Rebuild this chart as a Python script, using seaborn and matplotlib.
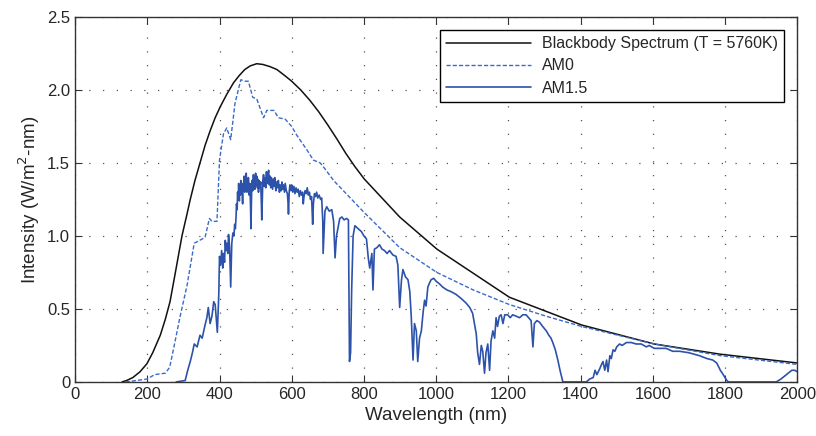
import numpy as np
import pandas as pd
import matplotlib
matplotlib.use("Agg")
import matplotlib.pyplot as plt
import seaborn as sns

# blackbody spectrum (T = 5760K)
bb_nm = [130, 143, 160, 180, 199, 215, 236, 250, 263, 280, 296, 310, 319, 332, 346, 360,
         374, 388, 402, 420, 439, 455, 470, 485, 503, 520, 540, 559, 580, 600, 625, 650,
         675, 700, 725, 750, 775, 801, 850, 899, 1002, 1203, 1403, 1604, 1787, 2000]
bb_val = [0.0, 0.01, 0.03, 0.07, 0.125, 0.2, 0.32, 0.43, 0.55, 0.78, 1.0, 1.15, 1.25, 1.38, 1.5, 1.62,
          1.72, 1.81, 1.885, 1.97, 2.05, 2.10, 2.14, 2.165, 2.18, 2.175, 2.16, 2.14, 2.10, 2.06, 2.0, 1.93,
          1.85, 1.76, 1.665, 1.565, 1.475, 1.39, 1.26, 1.13, 0.91, 0.58, 0.39, 0.26, 0.19, 0.13]

# AM0 spectrum
am0_nm = [140, 200, 220, 250, 262, 273, 291, 310, 330, 345, 360, 372, 379, 393, 400, 411,
          420, 431, 443, 459, 471, 480, 492, 503, 522, 531, 551, 563, 582, 600, 614, 642,
          660, 679, 692, 716, 801, 899, 1002, 1103, 1203, 1305, 1403, 1604, 1787, 2000]
am0_val = [0.0, 0.02, 0.05, 0.06, 0.10, 0.23, 0.45, 0.66, 0.95, 0.97, 0.99, 1.12, 1.10, 1.10, 1.52, 1.70,
           1.74, 1.66, 1.91, 2.07, 2.06, 2.06, 1.95, 1.94, 1.81, 1.86, 1.86, 1.81, 1.80, 1.75, 1.69, 1.59,
           1.52, 1.50, 1.46, 1.38, 1.16, 0.92, 0.75, 0.63, 0.53, 0.45, 0.38, 0.26, 0.18, 0.12]

# AM1.5 spectrum, in three pieces
am15_uv_nm = [280, 305, 312, 319, 325, 330, 338, 346, 352, 360,
              365, 369, 374, 379, 384, 388, 394, 398, 400, 403,
              406, 409, 411, 414, 416, 418, 420, 423, 425, 428,
              431, 434, 437]
am15_uv_val = [0.0, 0.01, 0.08, 0.14, 0.20, 0.26, 0.24, 0.32, 0.30, 0.39,
               0.44, 0.51, 0.40, 0.45, 0.55, 0.53, 0.34, 0.60, 0.86, 0.80,
               0.90, 0.78, 0.88, 0.82, 0.97, 0.90, 0.95, 0.88, 1.01, 0.92,
               0.65, 0.95, 1.02]

am15_vis_nm = [440, 442, 444, 446, 447, 449, 450, 452, 453, 455,
               456, 458, 459, 461, 462, 464, 465, 467, 468, 470,
               471, 473, 474, 476, 477, 479, 480, 482, 484, 486,
               487, 489, 490, 492, 494, 495, 497, 498, 500, 502,
               503, 505, 506, 508, 510, 512, 514, 516, 517, 519,
               520, 522, 524, 526, 528, 530, 532, 534, 536, 538,
               540, 542, 544, 547, 549, 551, 553, 556, 558, 561,
               563, 566, 568, 571, 573, 575, 577, 580, 582, 585,
               588, 590, 591, 593, 595, 598, 600, 603, 606, 609,
               612, 615, 618, 621, 624, 627, 630, 632, 634, 637,
               640, 643, 646, 649, 652, 655, 658, 660, 663, 666,
               669, 672, 676, 680, 683, 686]
am15_vis_val = [1.00, 1.08, 1.05, 1.14, 1.22, 1.18, 1.30, 1.26, 1.36, 1.24,
                1.33, 1.28, 1.38, 1.29, 1.36, 1.22, 1.35, 1.31, 1.41, 1.30,
                1.38, 1.33, 1.43, 1.30, 1.37, 1.32, 1.40, 1.28, 1.36, 1.20,
                1.05, 1.30, 1.38, 1.31, 1.42, 1.34, 1.40, 1.32, 1.43, 1.35,
                1.41, 1.33, 1.39, 1.30, 1.38, 1.33, 1.37, 1.22, 1.11, 1.30,
                1.38, 1.42, 1.34, 1.40, 1.33, 1.44, 1.36, 1.41, 1.45, 1.35,
                1.41, 1.33, 1.40, 1.32, 1.39, 1.34, 1.40, 1.31, 1.37, 1.33,
                1.38, 1.30, 1.35, 1.31, 1.37, 1.32, 1.35, 1.30, 1.36, 1.31,
                1.29, 1.22, 1.15, 1.30, 1.35, 1.31, 1.35, 1.30, 1.34, 1.29,
                1.33, 1.30, 1.32, 1.27, 1.31, 1.28, 1.30, 1.22, 1.27, 1.31,
                1.29, 1.33, 1.28, 1.30, 1.25, 1.27, 1.08, 1.22, 1.29, 1.27,
                1.30, 1.26, 1.28, 1.25, 1.26, 1.10]

am15_ir_nm = [687, 692, 697, 704, 711, 716, 720, 724, 727, 733, 739, 745, 752, 757, 760, 763,
              766, 770, 775, 784, 793, 800, 807, 812, 816, 822, 825, 829, 836, 843, 850, 857, 864,
              871, 880, 889, 894, 899, 904, 908, 915, 922, 927, 931, 936, 940, 945, 949, 954, 959,
              964, 968, 972, 977, 982, 986, 993, 1000, 1010, 1018, 1030, 1040, 1055, 1070, 1083,
              1093, 1101, 1106, 1111, 1115, 1120, 1125, 1129, 1134, 1138, 1143, 1148, 1152, 1157,
              1162, 1166, 1170, 1175, 1180, 1185, 1190, 1198, 1205, 1212, 1222, 1231, 1240, 1249,
              1256, 1263, 1268, 1272, 1279, 1286, 1295, 1305, 1312, 1318, 1323, 1330, 1337, 1343,
              1351, 1416, 1425, 1435, 1440, 1445, 1453, 1458, 1462, 1467, 1472, 1476, 1481, 1485,
              1490, 1495, 1500, 1508, 1515, 1527, 1540, 1554, 1568, 1582, 1590, 1604, 1620, 1637,
              1655, 1674, 1700, 1729, 1750, 1766, 1777, 1787, 1795, 1805, 1810, 1942, 1955, 1970,
              1985, 1993, 2000]
am15_ir_val = [0.88, 1.17, 1.20, 1.17, 1.18, 1.10, 0.85, 1.00, 1.04, 1.12, 1.13, 1.11, 1.12, 1.11, 0.14, 0.20,
               0.63, 1.00, 1.07, 1.05, 1.03, 1.00, 0.98, 0.85, 0.78, 0.88, 0.63, 0.91, 0.92, 0.94, 0.91, 0.90, 0.88,
               0.90, 0.87, 0.86, 0.80, 0.51, 0.70, 0.77, 0.72, 0.70, 0.62, 0.45, 0.15, 0.40, 0.35, 0.14, 0.30, 0.35,
               0.48, 0.56, 0.52, 0.65, 0.68, 0.70, 0.71, 0.69, 0.67, 0.65, 0.63, 0.62, 0.60, 0.57, 0.54,
               0.51, 0.47, 0.40, 0.33, 0.20, 0.12, 0.25, 0.21, 0.06, 0.20, 0.26, 0.08, 0.28, 0.35,
               0.30, 0.44, 0.38, 0.45, 0.46, 0.40, 0.46, 0.46, 0.44, 0.46, 0.45, 0.44, 0.46, 0.46,
               0.44, 0.42, 0.24, 0.40, 0.42, 0.41, 0.38, 0.35, 0.32, 0.30, 0.27, 0.22, 0.15, 0.08,
               0.0, 0.0, 0.02, 0.03, 0.08, 0.05, 0.09, 0.12, 0.14, 0.08, 0.15, 0.07, 0.18, 0.16,
               0.22, 0.21, 0.24, 0.26, 0.25, 0.27, 0.27, 0.26, 0.26, 0.24, 0.25, 0.23, 0.23, 0.23,
               0.21, 0.21, 0.20, 0.18, 0.16, 0.15, 0.13, 0.08, 0.05, 0.01, 0.0, 0.0, 0.02, 0.05,
               0.08, 0.08, 0.07]

x_ticks = [0, 200, 400, 600, 800, 1000, 1200, 1400, 1600, 1800, 2000]
y_ticks = [0, 0.5, 1.0, 1.5, 2.0, 2.5]
y_tick_labels = ["0", "0.5", "1.0", "1.5", "2.0", "2.5"]

am15_nm = am15_uv_nm + am15_vis_nm + am15_ir_nm
am15_val = am15_uv_val + am15_vis_val + am15_ir_val

sns.set_style("ticks")
plt.rcParams['font.family'] = ['Liberation Sans', 'DejaVu Sans']

fig = plt.figure(figsize=(8.16, 4.36), dpi=100)
ax = fig.add_axes([0.092, 0.124, 0.885, 0.837])

sns.lineplot(x=bb_nm, y=bb_val, ax=ax, color="#111111", lw=1.1,
             label="Blackbody Spectrum (T = 5760K)", sort=False)
sns.lineplot(x=am0_nm, y=am0_val, ax=ax, color="#3a6bc8", lw=1.0, linestyle=(0, (3, 1.5)),
             label="AM0", sort=False)
sns.lineplot(x=am15_nm, y=am15_val, ax=ax, color="#2d52aa", lw=1.2,
             label="AM1.5", sort=False)

ax.set_xlim(0, 2000)
ax.set_ylim(0, 2.5)
ax.set_xticks(x_ticks)
ax.set_yticks(y_ticks)
ax.set_yticklabels(y_tick_labels)
ax.tick_params(direction="in", length=5, top=True, right=True, labelsize=12, color="#333333")
ax.grid(True, linestyle=(0, (1, 10)), color="#555555", lw=0.9)
for s in ax.spines.values():
    s.set_color("#333333")
    s.set_linewidth(1.0)

ax.set_xlabel("Wavelength (nm)", fontsize=13.5)
ax.set_ylabel("Intensity (W/m$^2$-nm)", fontsize=13.5)

leg = ax.legend(loc="upper right", fontsize=11.5, handlelength=5.3, handletextpad=0.7,
                fancybox=False, framealpha=1, edgecolor="black", borderaxespad=0.8,
                labelspacing=0.45)
leg.get_frame().set_linewidth(1.0)

fig.savefig("out.png", dpi=100)
